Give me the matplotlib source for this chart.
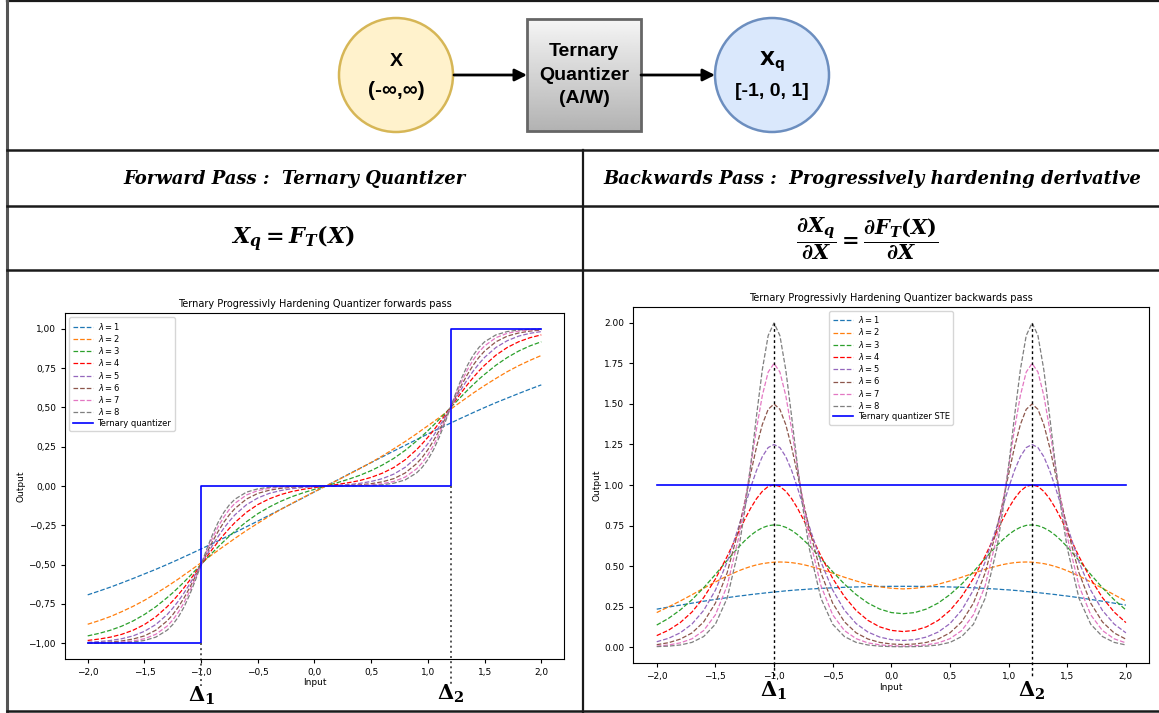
import numpy as np
import matplotlib.pyplot as plt
from matplotlib.patches import Circle, Rectangle
from matplotlib.ticker import FuncFormatter

plt.rcParams['mathtext.it'] = 'DejaVu Serif:italic:bold'
plt.rcParams['mathtext.rm'] = 'DejaVu Serif:bold'
plt.rcParams['mathtext.bf'] = 'DejaVu Serif:bold'

# Input values shared by all curves
x = [-2.0, -1.9, -1.8, -1.7, -1.6, -1.5, -1.4, -1.3, -1.25, -1.2, -1.15, -1.1, -1.05, -1.0,
     -0.95, -0.9, -0.85, -0.8, -0.75, -0.7, -0.6, -0.5, -0.4, -0.3, -0.2, -0.1, 0.0, 0.1,
     0.2, 0.3, 0.4, 0.5, 0.6, 0.7, 0.8, 0.9, 0.95, 1.0, 1.05, 1.1, 1.15, 1.2, 1.25, 1.3,
     1.35, 1.4, 1.45, 1.5, 1.6, 1.7, 1.8, 1.9, 2.0]

# Forward pass (output) per lambda
fwd_1 = [-0.692, -0.668, -0.643, -0.616, -0.588, -0.559, -0.530, -0.499, -0.483, -0.467, -0.450, -0.434, -0.417, -0.400,
         -0.383, -0.366, -0.349, -0.331, -0.313, -0.295, -0.259, -0.223, -0.186, -0.149, -0.112, -0.075, -0.037, 0.000,
         0.037, 0.075, 0.112, 0.149, 0.186, 0.223, 0.259, 0.295, 0.313, 0.331, 0.349, 0.366, 0.383, 0.400, 0.417, 0.434,
         0.450, 0.467, 0.483, 0.499, 0.530, 0.559, 0.588, 0.616, 0.643]
fwd_2 = [-0.879, -0.856, -0.830, -0.799, -0.765, -0.727, -0.684, -0.639, -0.615, -0.591, -0.565, -0.540, -0.514, -0.488,
         -0.462, -0.435, -0.409, -0.383, -0.358, -0.332, -0.283, -0.237, -0.192, -0.150, -0.111, -0.073, -0.036, 0.000,
         0.036, 0.073, 0.111, 0.150, 0.192, 0.237, 0.283, 0.332, 0.358, 0.383, 0.409, 0.435, 0.462, 0.488, 0.514, 0.540,
         0.565, 0.591, 0.615, 0.639, 0.684, 0.727, 0.765, 0.799, 0.830]
fwd_3 = [-0.953, -0.937, -0.917, -0.891, -0.858, -0.817, -0.768, -0.710, -0.679, -0.645, -0.610, -0.573, -0.536, -0.499,
         -0.461, -0.424, -0.387, -0.352, -0.318, -0.286, -0.227, -0.176, -0.134, -0.098, -0.068, -0.043, -0.021, 0.000,
         0.021, 0.043, 0.068, 0.098, 0.134, 0.176, 0.227, 0.286, 0.318, 0.352, 0.387, 0.424, 0.461, 0.499, 0.536, 0.573,
         0.610, 0.645, 0.679, 0.710, 0.768, 0.817, 0.858, 0.891, 0.917]
fwd_4 = [-0.982, -0.973, -0.961, -0.943, -0.917, -0.881, -0.832, -0.768, -0.731, -0.690, -0.646, -0.599, -0.550, -0.500,
         -0.450, -0.401, -0.354, -0.310, -0.269, -0.231, -0.167, -0.118, -0.082, -0.055, -0.035, -0.021, -0.010, 0.000,
         0.010, 0.021, 0.035, 0.055, 0.082, 0.118, 0.167, 0.231, 0.269, 0.310, 0.354, 0.401, 0.450, 0.500, 0.550, 0.599,
         0.646, 0.690, 0.731, 0.768, 0.832, 0.881, 0.917, 0.943, 0.961]
fwd_5 = [-0.993, -0.989, -0.982, -0.971, -0.953, -0.924, -0.881, -0.818, -0.777, -0.731, -0.679, -0.622, -0.562, -0.500,
         -0.438, -0.378, -0.321, -0.269, -0.223, -0.182, -0.119, -0.076, -0.047, -0.029, -0.017, -0.009, -0.004, 0.000,
         0.004, 0.009, 0.017, 0.029, 0.047, 0.076, 0.119, 0.182, 0.223, 0.269, 0.321, 0.378, 0.438, 0.500, 0.562, 0.622,
         0.679, 0.731, 0.777, 0.818, 0.881, 0.924, 0.953, 0.971, 0.982]
fwd_6 = [-0.998, -0.996, -0.992, -0.985, -0.973, -0.953, -0.917, -0.858, -0.818, -0.769, -0.711, -0.646, -0.574, -0.500,
         -0.426, -0.354, -0.289, -0.231, -0.182, -0.142, -0.083, -0.047, -0.027, -0.015, -0.008, -0.004, -0.002, 0.000,
         0.002, 0.004, 0.008, 0.015, 0.027, 0.047, 0.083, 0.142, 0.182, 0.231, 0.289, 0.354, 0.426, 0.500, 0.574, 0.646,
         0.711, 0.769, 0.818, 0.858, 0.917, 0.953, 0.973, 0.985, 0.992]
fwd_7 = [-0.999, -0.998, -0.996, -0.993, -0.985, -0.971, -0.943, -0.891, -0.852, -0.802, -0.741, -0.668, -0.587, -0.500,
         -0.413, -0.332, -0.259, -0.198, -0.148, -0.109, -0.057, -0.029, -0.015, -0.007, -0.004, -0.002, -0.001, 0.000,
         0.001, 0.002, 0.004, 0.007, 0.015, 0.029, 0.057, 0.109, 0.148, 0.198, 0.259, 0.332, 0.413, 0.500, 0.587, 0.668,
         0.741, 0.802, 0.852, 0.891, 0.943, 0.971, 0.985, 0.993, 0.996]
fwd_8 = [-1.000, -0.999, -0.998, -0.996, -0.992, -0.982, -0.961, -0.917, -0.881, -0.832, -0.769, -0.690, -0.599, -0.500,
         -0.401, -0.310, -0.231, -0.168, -0.119, -0.083, -0.039, -0.018, -0.008, -0.004, -0.002, -0.001, 0.000, 0.000,
         0.000, 0.001, 0.002, 0.004, 0.008, 0.018, 0.039, 0.083, 0.119, 0.168, 0.231, 0.310, 0.401, 0.500, 0.599, 0.690,
         0.769, 0.832, 0.881, 0.917, 0.961, 0.982, 0.992, 0.996, 0.998]

# Backward pass (derivative) per lambda
grad_1 = [0.234, 0.247, 0.259, 0.271, 0.283, 0.294, 0.305, 0.315, 0.319, 0.324, 0.328, 0.332, 0.336, 0.340,
          0.343, 0.347, 0.350, 0.353, 0.355, 0.358, 0.362, 0.366, 0.369, 0.371, 0.373, 0.374, 0.375, 0.375,
          0.375, 0.374, 0.373, 0.371, 0.369, 0.366, 0.362, 0.358, 0.355, 0.353, 0.350, 0.347, 0.343, 0.340, 0.336, 0.332,
          0.328, 0.324, 0.319, 0.315, 0.305, 0.294, 0.283, 0.271, 0.259]
grad_2 = [0.213, 0.248, 0.284, 0.323, 0.363, 0.402, 0.439, 0.471, 0.485, 0.497, 0.507, 0.515, 0.520, 0.524,
          0.525, 0.524, 0.521, 0.516, 0.509, 0.500, 0.480, 0.456, 0.431, 0.408, 0.388, 0.372, 0.363, 0.359,
          0.363, 0.372, 0.388, 0.408, 0.431, 0.456, 0.480, 0.500, 0.509, 0.516, 0.521, 0.524, 0.525, 0.524, 0.520, 0.515,
          0.507, 0.497, 0.485, 0.471, 0.439, 0.402, 0.363, 0.323, 0.284]
grad_3 = [0.136, 0.177, 0.229, 0.292, 0.366, 0.448, 0.535, 0.618, 0.656, 0.689, 0.716, 0.736, 0.749, 0.754,
          0.751, 0.739, 0.720, 0.694, 0.662, 0.627, 0.547, 0.465, 0.389, 0.324, 0.272, 0.235, 0.213, 0.206,
          0.213, 0.235, 0.272, 0.324, 0.389, 0.465, 0.547, 0.627, 0.662, 0.694, 0.720, 0.739, 0.751, 0.754, 0.749, 0.736,
          0.716, 0.689, 0.656, 0.618, 0.535, 0.448, 0.366, 0.292, 0.229]
grad_4 = [0.071, 0.104, 0.151, 0.216, 0.305, 0.420, 0.559, 0.712, 0.787, 0.856, 0.915, 0.961, 0.991, 1.001,
          0.991, 0.962, 0.916, 0.857, 0.788, 0.714, 0.562, 0.424, 0.312, 0.226, 0.165, 0.125, 0.103, 0.096,
          0.103, 0.125, 0.165, 0.226, 0.312, 0.424, 0.562, 0.714, 0.788, 0.857, 0.916, 0.962, 0.991, 1.001, 0.991, 0.961,
          0.915, 0.856, 0.787, 0.712, 0.559, 0.420, 0.305, 0.216, 0.151]
grad_5 = [0.033, 0.054, 0.088, 0.142, 0.226, 0.351, 0.525, 0.746, 0.866, 0.983, 1.089, 1.175, 1.231, 1.250,
          1.231, 1.175, 1.090, 0.983, 0.866, 0.746, 0.526, 0.352, 0.228, 0.145, 0.093, 0.062, 0.046, 0.041,
          0.046, 0.062, 0.093, 0.145, 0.228, 0.352, 0.526, 0.746, 0.866, 0.983, 1.090, 1.175, 1.231, 1.250, 1.231, 1.175,
          1.089, 0.983, 0.866, 0.746, 0.525, 0.351, 0.226, 0.142, 0.088]
grad_6 = [0.015, 0.027, 0.049, 0.087, 0.155, 0.271, 0.458, 0.730, 0.895, 1.067, 1.233, 1.373, 1.467, 1.500,
          1.467, 1.373, 1.233, 1.067, 0.895, 0.730, 0.458, 0.271, 0.156, 0.088, 0.050, 0.029, 0.019, 0.016,
          0.019, 0.029, 0.050, 0.088, 0.156, 0.271, 0.458, 0.730, 0.895, 1.067, 1.233, 1.373, 1.467, 1.500, 1.467, 1.373,
          1.233, 1.067, 0.895, 0.730, 0.458, 0.271, 0.155, 0.087, 0.049]
grad_7 = [0.006, 0.013, 0.026, 0.051, 0.102, 0.199, 0.378, 0.680, 0.883, 1.111, 1.344, 1.552, 1.697, 1.750,
          1.697, 1.552, 1.344, 1.111, 0.883, 0.680, 0.378, 0.199, 0.102, 0.052, 0.026, 0.014, 0.008, 0.006,
          0.008, 0.014, 0.026, 0.052, 0.102, 0.199, 0.378, 0.680, 0.883, 1.111, 1.344, 1.552, 1.697, 1.750, 1.697, 1.552,
          1.344, 1.111, 0.883, 0.680, 0.378, 0.199, 0.102, 0.051, 0.026]
grad_8 = [0.003, 0.006, 0.013, 0.029, 0.065, 0.141, 0.301, 0.610, 0.840, 1.118, 1.423, 1.711, 1.922, 2.000,
          1.922, 1.711, 1.423, 1.118, 0.840, 0.610, 0.301, 0.141, 0.065, 0.029, 0.013, 0.006, 0.003, 0.002,
          0.003, 0.006, 0.013, 0.029, 0.065, 0.141, 0.301, 0.610, 0.840, 1.118, 1.423, 1.711, 1.922, 2.000, 1.922, 1.711,
          1.423, 1.118, 0.840, 0.610, 0.301, 0.141, 0.065, 0.029, 0.013]

lambdas = [1, 2, 3, 4, 5, 6, 7, 8]
fwd = [fwd_1, fwd_2, fwd_3, fwd_4, fwd_5, fwd_6, fwd_7, fwd_8]
grad = [grad_1, grad_2, grad_3, grad_4, grad_5, grad_6, grad_7, grad_8]

# ternary quantizer and its STE
step_x = [-2.0, -1.0, -1.0, 1.2, 1.2, 2.0]
step_y = [-1.0, -1.0, 0.0, 0.0, 1.0, 1.0]
ste_x = [-2.0, 2.0]
ste_y = [1.0, 1.0]
deltas = [-1.0, 1.2]

colors = ['#1f77b4', '#ff7f0e', '#2ca02c', 'red', '#9467bd', '#8c564b', '#e377c2', '#7f7f7f']

fig = plt.figure(figsize=(11.59, 7.13), dpi=100)

# full-figure canvas in pixel units for the diagram and table
cv = fig.add_axes([0, 0, 1, 1])
cv.axis('off')

lc = '#1a1a1a'
cv.plot([7, 1159], [1, 1], color=lc, lw=1.6)
cv.plot([7, 7], [0, 713], color='#555555', lw=2.2)
for yy in [150, 206, 270]:
    cv.plot([7, 1159], [yy, yy], color=lc, lw=1.8)
cv.plot([7, 1159], [711, 711], color=lc, lw=1.8)
cv.plot([583, 583], [150, 713], color=lc, lw=1.6)

sans = ['Liberation Sans', 'DejaVu Sans']
cv.add_patch(Circle((396, 75), 57, fc='#fff2cc', ec='#d6b656', lw=1.8))
cv.add_patch(Circle((772, 75), 57, fc='#dae8fc', ec='#6c8ebf', lw=1.8))
grad_img = np.linspace(0.96, 0.70, 100).reshape(-1, 1)
cv.imshow(grad_img, cmap='gray', vmin=0, vmax=1, extent=(527, 641, 131, 19), aspect='auto')
cv.add_patch(Rectangle((527, 19), 114, 112, fill=False, ec='#666666', lw=2))
cv.annotate('', xy=(527, 75), xytext=(454, 75),
            arrowprops=dict(arrowstyle='-|>', color='black', lw=2, mutation_scale=18, shrinkA=0, shrinkB=0))
cv.annotate('', xy=(715, 75), xytext=(641, 75),
            arrowprops=dict(arrowstyle='-|>', color='black', lw=2, mutation_scale=18, shrinkA=0, shrinkB=0))
cv.text(396, 61, 'X', ha='center', va='center', fontsize=14, fontweight='bold', family=sans)
cv.text(396, 91, '(-\u221e,\u221e)', ha='center', va='center', fontsize=15, fontweight='bold', family=sans)
cv.text(584, 75, 'Ternary\nQuantizer\n(A/W)', ha='center', va='center', fontsize=14, fontweight='bold',
        family=sans, linespacing=1.5)
cv.text(772, 62, r'$\mathbf{X_q}$', ha='center', va='center', fontsize=14)
cv.text(772, 92, '[-1, 0, 1]', ha='center', va='center', fontsize=14, fontweight='bold', family=sans)

serif = dict(family='DejaVu Serif', style='italic', fontweight='bold', fontsize=13)
cv.text(295, 179, 'Forward Pass :  Ternary Quantizer', ha='center', va='center', **serif)
cv.text(872, 179, 'Backwards Pass :  Progressively hardening derivative', ha='center', va='center', **serif)
cv.text(293, 239, r'$X_q = F_T(X)$', ha='center', va='center', fontsize=16, math_fontfamily='custom')
cv.text(867, 239, r'$\dfrac{\partial X_q}{\partial X} = \dfrac{\partial F_T(X)}{\partial X}$',
        ha='center', va='center', fontsize=15, math_fontfamily='custom')

cv.text(202, 696, r'$\mathbf{\Delta_1}$', ha='center', va='center', fontsize=15, math_fontfamily='custom')
cv.text(451, 694, r'$\mathbf{\Delta_2}$', ha='center', va='center', fontsize=15, math_fontfamily='custom')
cv.text(774, 691, r'$\mathbf{\Delta_1}$', ha='center', va='center', fontsize=15, math_fontfamily='custom')
cv.text(1032, 691, r'$\mathbf{\Delta_2}$', ha='center', va='center', fontsize=15, math_fontfamily='custom')

cv.set_xlim(0, 1159)
cv.set_ylim(713, 0)

comma1 = FuncFormatter(lambda v, p: f'{v:.1f}'.replace('.', ',').replace('-', '\u2212'))
comma2 = FuncFormatter(lambda v, p: f'{v:.2f}'.replace('.', ',').replace('-', '\u2212'))
dot2 = FuncFormatter(lambda v, p: f'{v:.2f}'.replace('-', '\u2212'))

leg_kw = dict(fontsize=6, handlelength=2.4, labelspacing=0.15, borderpad=0.4, handletextpad=0.6)

# forwards pass
axL = fig.add_axes([0.0561, 0.0757, 0.4305, 0.4853])
for lam, ys, c in zip(lambdas, fwd, colors):
    axL.plot(x, ys, ls='--', lw=0.9, color=c, label=rf'$\lambda = {lam}$')
axL.plot(step_x, step_y, color='blue', lw=1.2, label='Ternary quantizer')
axL.plot([deltas[0], deltas[0]], [-1.0, -1.27], color='#555555', ls=':', lw=1.4, clip_on=False)
axL.plot([deltas[1], deltas[1]], [0.0, -1.27], color='#555555', ls=':', lw=1.4, clip_on=False)
axL.set_xlim(-2.2, 2.2)
axL.set_ylim(-1.1, 1.1)
axL.set_title('Ternary Progressivly Hardening Quantizer forwards pass', fontsize=7, pad=4)
axL.set_xlabel('Input', fontsize=6.5, labelpad=1)
axL.set_ylabel('Output', fontsize=6.5, labelpad=2)
axL.xaxis.set_major_formatter(comma1)
axL.yaxis.set_major_formatter(comma2)
axL.tick_params(labelsize=6.5, length=3)
axL.legend(loc='upper left', **leg_kw)

# backwards pass
axR = fig.add_axes([0.5464, 0.0697, 0.4453, 0.5001])
for lam, ys, c in zip(lambdas, grad, colors):
    axR.plot(x, ys, ls='--', lw=0.9, color=c, label=rf'$\lambda = {lam}$')
axR.plot(ste_x, ste_y, color='blue', lw=1.2, label='Ternary quantizer STE')
for d in deltas:
    axR.plot([d, d], [2.0, -0.18], color='black', ls=(0, (2, 2)), lw=1.0, clip_on=False)
axR.set_xlim(-2.2, 2.2)
axR.set_ylim(-0.1, 2.1)
axR.set_title('Ternary Progressivly Hardening Quantizer backwards pass', fontsize=7, pad=4)
axR.set_xlabel('Input', fontsize=6.5, labelpad=1)
axR.set_ylabel('Output', fontsize=6.5, labelpad=2)
axR.xaxis.set_major_formatter(comma1)
axR.yaxis.set_major_formatter(dot2)
axR.tick_params(labelsize=6.5, length=3)
axR.legend(loc='upper center', **leg_kw)

fig.savefig('out.png', dpi=100, facecolor='white')
